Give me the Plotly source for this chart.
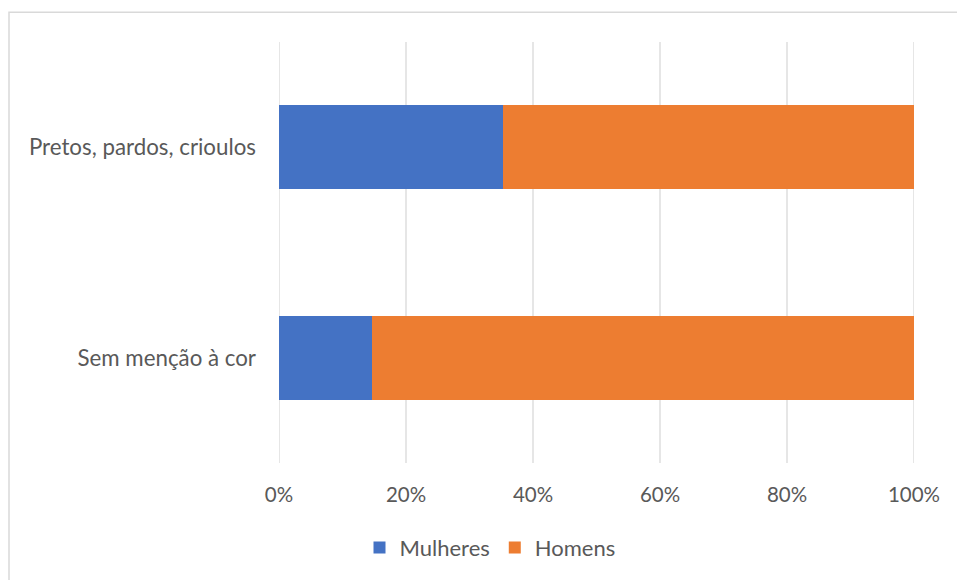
import plotly.graph_objects as go

categories = ["Sem menção à cor", "Pretos, pardos, crioulos"]
mulheres = [14.7, 35.3]
homens = [85.3, 64.7]
series_names = ["Mulheres", "Homens"]
tick_vals = [0, 20, 40, 60, 80, 100]
tick_text = ["0%", "20%", "40%", "60%", "80%", "100%"]

fig = go.Figure()
fig.add_trace(go.Bar(y=categories, x=mulheres, name=series_names[0], orientation="h",
                     marker=dict(color="#4472C4", line=dict(width=0))))
fig.add_trace(go.Bar(y=categories, x=homens, name=series_names[1], orientation="h",
                     marker=dict(color="#ED7D31", line=dict(width=0))))

L, R, T, B = 279, 43, 42, 115
W, H = 957, 580
pw, ph = W - L - R, H - T - B

def px(x):
    return (x - L) / pw

def py(y):
    return (H - B - y) / ph

fig.add_shape(type="rect", xref="paper", yref="paper",
              x0=px(9), x1=px(962), y0=py(585), y1=py(12),
              line=dict(color="#D9D9D9", width=1.5), layer="below")

for v in tick_vals:
    fig.add_shape(type="line", xref="x", yref="paper", x0=v, x1=v, y0=0, y1=1,
                  line=dict(color="#D9D9D9", width=1.3), layer="below")

FONT = "Lato"
fig.update_layout(
    width=W, height=H,
    margin=dict(l=L, r=R, t=T, b=B),
    barmode="stack", bargap=0.6,
    plot_bgcolor="white", paper_bgcolor="white",
    font=dict(family=FONT, size=20, color="#595959"),
    showlegend=True,
    legend=dict(orientation="h", x=px(490), xanchor="center", y=py(550), yanchor="middle",
                font=dict(family=FONT, size=22, color="#595959"), traceorder="normal",
                itemwidth=30),
    xaxis=dict(range=[0, 100], tickvals=tick_vals, ticktext=tick_text,
               showgrid=False, zeroline=False, showline=False, ticks="",
               ticklabelstandoff=17,
               tickfont=dict(family=FONT, size=20.5, color="#595959")),
    yaxis=dict(range=[-0.5, 1.5], showgrid=False, zeroline=False, showline=False,
               ticks="", ticklabelstandoff=22,
               tickfont=dict(family=FONT, size=22.3, color="#595959")),
)

fig.write_html("out.html")
